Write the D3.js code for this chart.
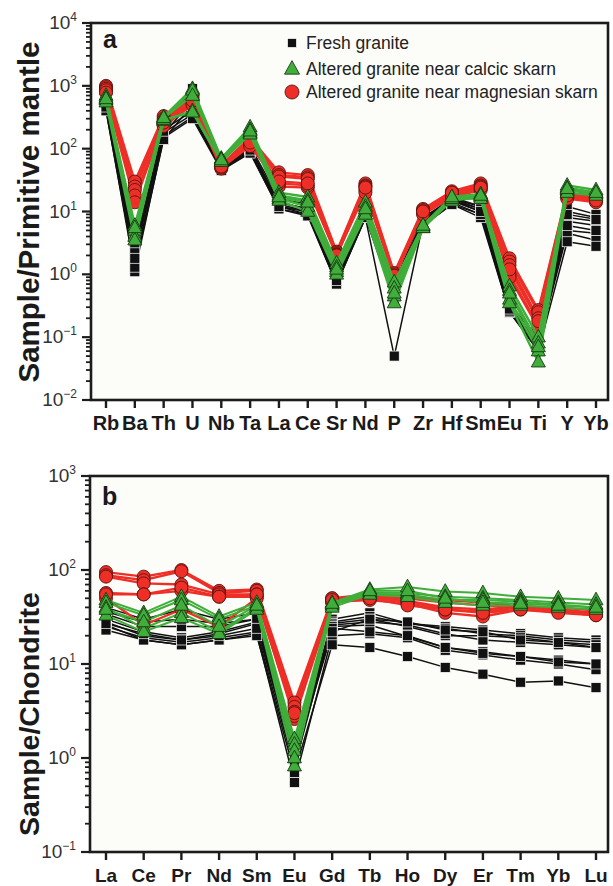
<!DOCTYPE html>
<html><head><meta charset="utf-8">
<script src="https://cdn.jsdelivr.net/npm/d3@7"></script>
<style>body{margin:0;background:#fff}svg{display:block}</style>
</head><body>
<script>
// ---------- DATA ----------
const elementsA = ["Rb","Ba","Th","U","Nb","Ta","La","Ce","Sr","Nd","P","Zr","Hf","Sm","Eu","Ti","Y","Yb"];
const elementsB = ["La","Ce","Pr","Nd","Sm","Eu","Gd","Tb","Ho","Dy","Er","Tm","Yb","Lu"];
const yExpA = [-2,-1,0,1,2,3,4];
const yExpB = [-1,0,1,2,3];
const legendLabels = ["Fresh granite","Altered granite near calcic skarn","Altered granite near magnesian skarn"];

// Primitive-mantle normalised (panel a)
const freshA = [
  [500,2.5,180,350,50,95,13,10,0.8,9,0.5,7,15,10,0.28,0.07,10,8],
  [450,1.5,160,320,48,90,12,9,0.7,8,0.05,6.5,14,9,0.25,0.06,8,7],
  [550,3,200,400,55,100,14,11,0.9,10,0.6,8,16,12,0.3,0.08,12,9],
  [420,1.1,150,300,45,88,11,9,0.75,8,0.4,6,13,8,0.25,0.065,7,6],
  [600,4,250,800,55,110,16,13,1.0,12,0.7,9,17,12,0.35,0.09,5,4.5],
  [480,2,170,600,50,95,12,10,0.8,9,0.5,7,15,11,0.27,0.075,4.5,3.5],
  [400,1.3,140,500,45,85,11,8.5,0.7,8,0.45,6,13,9,0.26,0.06,3.3,2.8],
  [520,2.2,220,900,52,100,14,11,0.85,10,0.6,7.5,16,11,0.3,0.08,6,5],
  [460,1.8,190,700,50,95,12,10,0.8,9,0.55,7,15,10,0.28,0.07,9,7.5]
];
const calcicA = [
  [700,6,320,900,70,220,20,17,1.5,14,0.75,6,17,19,0.65,0.1,26,22],
  [650,5,300,850,68,200,18,15,1.3,12,0.6,5.8,16,18,0.55,0.08,24,20],
  [600,4,280,400,65,180,16,12,1.1,10,0.45,5.5,15,17,0.4,0.06,22,19],
  [550,3.5,290,380,62,170,15,10,1.0,9,0.35,5.5,16,16,0.35,0.04,20,18],
  [620,5.5,310,700,66,190,17,14,1.2,11,0.5,6,17,18,0.5,0.07,23,20]
];
const magnesianA = [
  [1000,30,330,700,55,150,42,38,2.3,28,1.05,11,21,28,1.8,0.27,20,17],
  [950,25,300,650,52,140,38,35,2.2,26,1.0,10.5,20,26,1.6,0.25,19,16],
  [900,22,280,600,50,130,36,33,2.1,25,0.95,10,19,25,1.4,0.2,18,16],
  [800,16,250,550,48,120,25,24,2.0,22,0.9,9.5,18,23,1.0,0.15,17,15],
  [850,18,230,500,50,110,28,26,2.05,20,0.9,9,17,22,0.9,0.14,16,14],
  [780,14,260,580,52,125,30,28,2.0,24,0.95,10,20,24,1.2,0.18,18,15]
];

// Chondrite normalised (panel b)
const freshB = [
  [30,22,19,22,28,1.0,30,35,27,25,23,21,19,18],
  [28,20,18,21,27,0.9,28,32,27,24,21,20,18,17],
  [34,25,25,25,30,1.1,27,30,25,20,20,19,17,16],
  [25,19,17,19,22,0.8,26,28,26,21,18,17,16,15],
  [40,30,38,30,35,1.2,25,26,19.6,15,13.5,12,11,10],
  [26,18,16,18,21,0.55,20,21,19,14,12.5,11,10,8.7],
  [23,18,16,18,20,0.7,16,15,12,9.2,7.8,6.4,6.6,5.6],
  [36,28,30,27,30,1.0,24,22,20,15,13,12,10.5,10],
  [27,21,18,20,24,0.95,22,30,28,23,22,18,17,15]
];
const calcicB = [
  [48,35,52,32,45,1.6,45,62,66,59,57,52,50,48],
  [45,33,48,30,42,1.4,43,58,57,52,50,48,45,43],
  [40,24,35,22,40,1.2,42,56,55,48,48,46,43,40],
  [33,22,31,21,38,0.82,40,55,52,45,42,42,40,38],
  [38,28,42,25,42,1.0,44,60,60,50,45,44,42,40]
];
const magnesianB = [
  [95,85,100,60,62,3.9,50,55,52,48,45,41,40,37],
  [88,78,97,57,60,3.5,48,52,50,45,42,40,38,35],
  [85,72,70,55,55,3.1,50,50,47,40,38,41,37,35],
  [57,55,60,52,52,2.6,46,48,44,35,32,38,36,33],
  [50,26,38,25,50,2.8,45,52,46,38,36,40,38,34],
  [55,55,65,52,55,3.0,48,50,42,38,35,38,35,33]
];

// ---------- STYLE ----------
const W = 613, H = 886;
const FONT = "'Liberation Sans', Arial, Helvetica, sans-serif";
const BLACK = "#111", GREEN = "#3fae3a", RED = "#ee2f27";

const svg = d3.select("body").append("svg").attr("width", W).attr("height", H)
  .style("font-family", FONT);
svg.append("rect").attr("width", W).attr("height", H).attr("fill", "#fff");

function marker(g, type, x, y, s) {
  if (type === "square") {
    g.append("rect").attr("x", x - s/2).attr("y", y - s/2).attr("width", s).attr("height", s)
      .attr("fill", BLACK).attr("stroke", "#fff").attr("stroke-width", 0.7);
  } else if (type === "triangle") {
    const h = s * 0.9;
    g.append("path").attr("d", `M${x},${y - h*0.62}L${x + s/2},${y + h*0.38}L${x - s/2},${y + h*0.38}Z`)
      .attr("fill", GREEN).attr("stroke", "#1a3a14").attr("stroke-width", 0.9);
  } else {
    g.append("circle").attr("cx", x).attr("cy", y).attr("r", s/2)
      .attr("fill", RED).attr("stroke", "#5a1410").attr("stroke-width", 0.9);
  }
}

function panel(cfg) {
  const {elements, left, right, top, bottom, xr, ydom, exps, groups, title, titleX, titleY, titleSize, xFont, letter, letterY} = cfg;
  const x = d3.scalePoint().domain(elements).range(xr);
  const y = d3.scaleLog().domain(ydom).range([bottom, top]);
  const g = svg.append("g");
  g.append("rect").attr("x", left).attr("y", top).attr("width", right - left).attr("height", bottom - top)
    .attr("fill", "#fcfcf8");

  // data
  const line = d3.line().x((d, i) => x(elements[i])).y(d => y(d));
  groups.forEach(gr => {
    const gg = g.append("g");
    gr.data.forEach(s => {
      gg.append("path").attr("d", line(s)).attr("fill", "none")
        .attr("stroke", gr.color).attr("stroke-width", gr.lw).attr("stroke-linejoin", "round");
    });
    gr.data.forEach(s => {
      s.forEach((v, i) => marker(gg, gr.type, x(elements[i]), y(v), gr.size));
    });
  });

  // frame
  g.append("rect").attr("x", left).attr("y", top).attr("width", right - left).attr("height", bottom - top)
    .attr("fill", "none").attr("stroke", "#1c1c1c").attr("stroke-width", 2.6);

  // y ticks (major + minor)
  const minor = [];
  for (let e = exps[0]; e < exps[exps.length - 1]; e++) for (let m = 2; m <= 9; m++) minor.push(m * Math.pow(10, e));
  g.selectAll(null).data(minor).enter().append("line")
    .attr("x1", left - 5).attr("x2", left).attr("y1", d => y(d)).attr("y2", d => y(d))
    .attr("stroke", "#1c1c1c").attr("stroke-width", 1.8);
  g.selectAll(null).data(exps).enter().append("line")
    .attr("x1", left - 9).attr("x2", left).attr("y1", d => y(Math.pow(10, d))).attr("y2", d => y(Math.pow(10, d)))
    .attr("stroke", "#1c1c1c").attr("stroke-width", 2.2);
  const yl = g.selectAll(null).data(exps).enter().append("text")
    .attr("x", left - 14).attr("y", d => y(Math.pow(10, d)) + 6)
    .attr("text-anchor", "end").attr("fill", "#333").style("font-size", "19px");
  yl.append("tspan").text("10");
  yl.append("tspan").attr("dy", -8).style("font-size", "12px").text(d => d < 0 ? "\u2212" + (-d) : d);

  // x ticks
  g.selectAll(null).data(elements).enter().append("line")
    .attr("x1", d => x(d)).attr("x2", d => x(d)).attr("y1", bottom).attr("y2", bottom + 8)
    .attr("stroke", "#1c1c1c").attr("stroke-width", 2.4);
  g.selectAll(null).data(elements).enter().append("text")
    .attr("x", d => x(d)).attr("y", bottom + 30).attr("text-anchor", "middle")
    .attr("fill", "#1a1a1a").style("font-size", xFont + "px").style("font-weight", "bold").text(d => d);

  // titles
  g.append("text").attr("transform", `translate(${titleX},${titleY}) rotate(-90)`)
    .attr("text-anchor", "middle").attr("fill", "#1a1a1a")
    .style("font-size", titleSize + "px").style("font-weight", "bold").text(title);
  g.append("text").attr("x", left + 12).attr("y", letterY).attr("fill", "#1a1a1a")
    .style("font-size", "25px").style("font-weight", "bold").text(letter);
}

panel({
  elements: elementsA, left: 91, right: 608, top: 23, bottom: 400, xr: [106, 596],
  ydom: [1e-2, 1e4], exps: yExpA,
  groups: [
    {data: freshA, type: "square", color: BLACK, lw: 1.5, size: 10},
    {data: magnesianA, type: "circle", color: RED, lw: 2.4, size: 13},
    {data: calcicA, type: "triangle", color: GREEN, lw: 2.4, size: 14}
  ],
  title: "Sample/Primitive mantle", titleX: 39, titleY: 212, titleSize: 29.5, xFont: 20,
  letter: "a", letterY: 48
});
panel({
  elements: elementsB, left: 90, right: 608, top: 476, bottom: 852, xr: [106, 596],
  ydom: [1e-1, 1e3], exps: yExpB,
  groups: [
    {data: freshB, type: "square", color: BLACK, lw: 1.5, size: 10},
    {data: magnesianB, type: "circle", color: RED, lw: 2.4, size: 13},
    {data: calcicB, type: "triangle", color: GREEN, lw: 2.0, size: 14}
  ],
  title: "Sample/Chondrite", titleX: 39, titleY: 714, titleSize: 28.5, xFont: 19,
  letter: "b", letterY: 505
});

// legend
const types = ["square", "triangle", "circle"];
const lg = svg.append("g");
legendLabels.forEach((t, i) => {
  const cy = [43, 69, 92][i];
  marker(lg, types[i], 292, cy, i === 0 ? 9 : (i === 1 ? 15 : 14));
  lg.append("text").attr("x", 306).attr("y", cy + 6).attr("fill", "#222")
    .style("font-size", "17.5px").text(t);
});
</script>
</body></html>
